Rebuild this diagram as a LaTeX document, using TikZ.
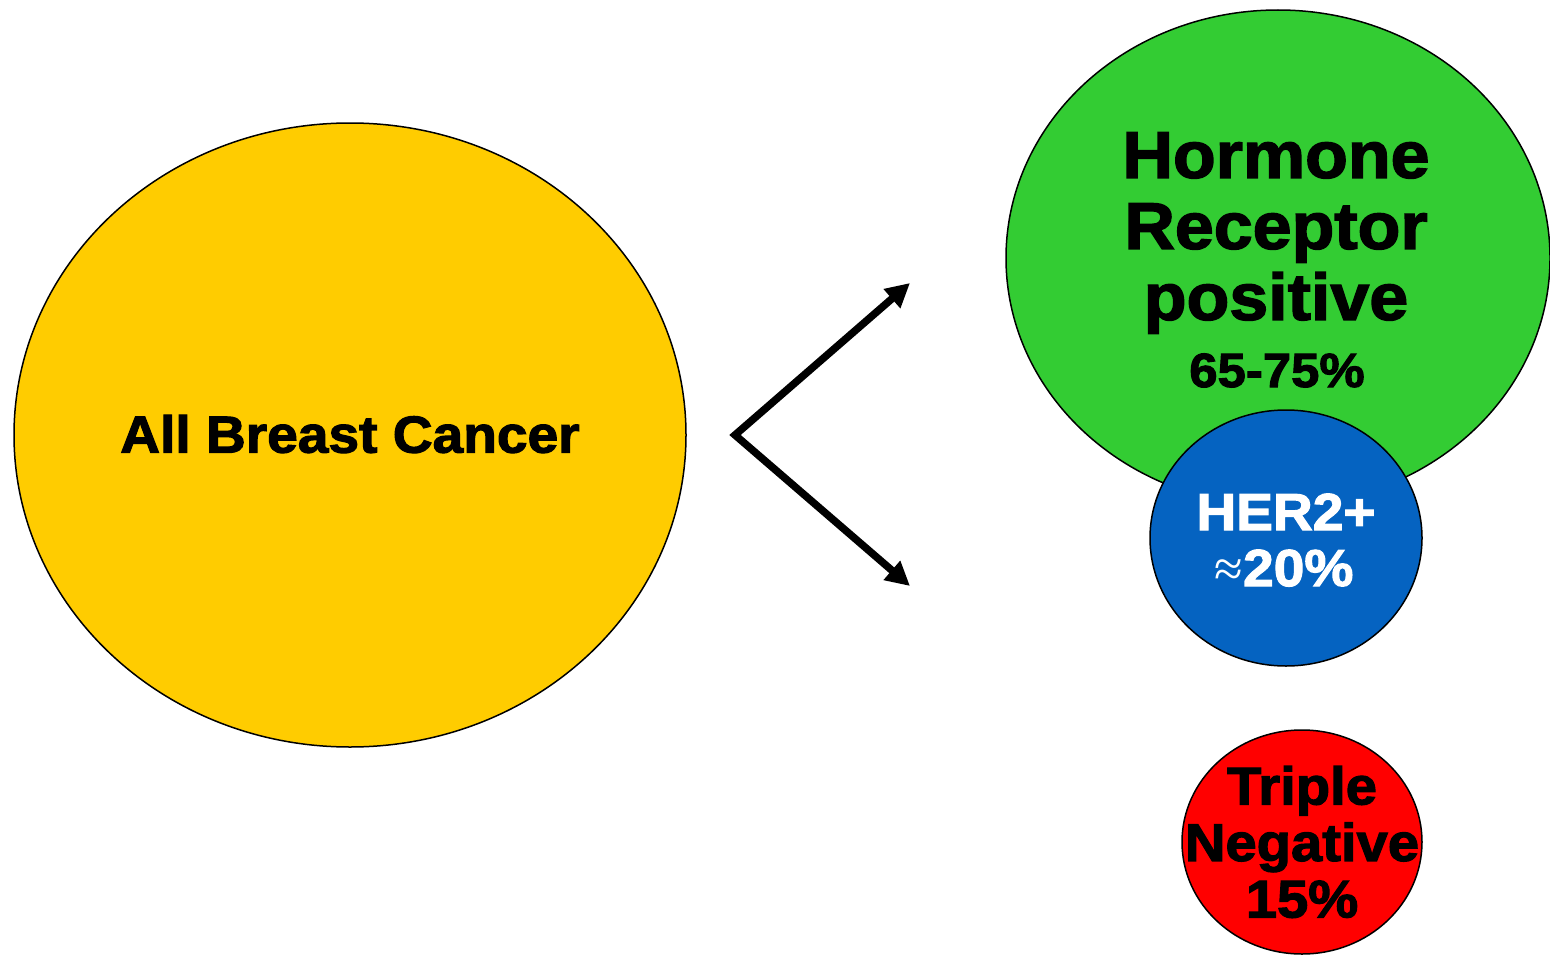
\documentclass[tikz,border=0pt]{standalone}
\usepackage{fontspec}
\setmainfont{Liberation Sans}
\newfontfamily\heavy[FakeBold=2.2,FakeStretch=1.06]{Liberation Sans}
\newfontfamily\serifalt{Liberation Serif}
\usetikzlibrary{shapes.geometric,arrows.meta}
\definecolor{cyellow}{HTML}{FFCC00}
\definecolor{cgreen}{HTML}{33CC33}
\definecolor{cblue}{HTML}{0563C1}
\definecolor{cred}{HTML}{FF0000}
\tikzset{
  blob/.style={ellipse, draw=black, line width=1.5pt, inner sep=0pt},
  lbl/.style={align=center, inner sep=0pt, font=\heavy\bfseries},
  conn/.style={line width=7.5pt, miter limit=10, {Triangle[length=24pt,width=24pt]}-{Triangle[length=24pt,width=24pt]}}
}
\begin{document}
\begin{tikzpicture}[x=1pt,y=-1pt]
\useasboundingbox (0,0) rectangle (1550,958);
\node[blob, fill=cyellow, minimum width=672pt, minimum height=624pt] (all) at (350,435) {};
\node[lbl, font=\heavy\bfseries\fontsize{52}{60}\selectfont] (allt) at (350,434) {All Breast Cancer};
\node[blob, fill=cgreen, minimum width=544pt, minimum height=496pt] (hr) at (1278,258) {};
\node[lbl, font=\heavy\bfseries\fontsize{66}{71}\selectfont] (hrt) at (1276,233) {Hormone\\Receptor\\positive};
\node[lbl, font=\heavy\bfseries\fontsize{48}{56}\selectfont, anchor=base] (hrp) at (1277,387) {65-75\%};
\node[blob, fill=cblue, minimum width=272pt, minimum height=256pt] (her) at (1286,538) {};
\node[lbl, text=white, font=\heavy\bfseries\fontsize{52}{56}\selectfont, anchor=base] (hert) at (1286,530) {HER2+};
\node[lbl, text=white, font=\heavy\bfseries\fontsize{52}{56}\selectfont, anchor=base] (herp) at (1284,586) {{\serifalt\mdseries ≈}20\%};
\node[blob, fill=cred, minimum width=240pt, minimum height=224pt] (tn) at (1302,842) {};
\node[lbl, font=\heavy\bfseries\fontsize{53}{56.5}\selectfont] (tnt) at (1302,842) {Triple\\Negative\\15\%};
\coordinate (v) at (735,435);
\coordinate (up) at (910,283);
\coordinate (dn) at (910,586);
\draw[conn] (up) -- (v) -- (dn);
\end{tikzpicture}
\end{document}
